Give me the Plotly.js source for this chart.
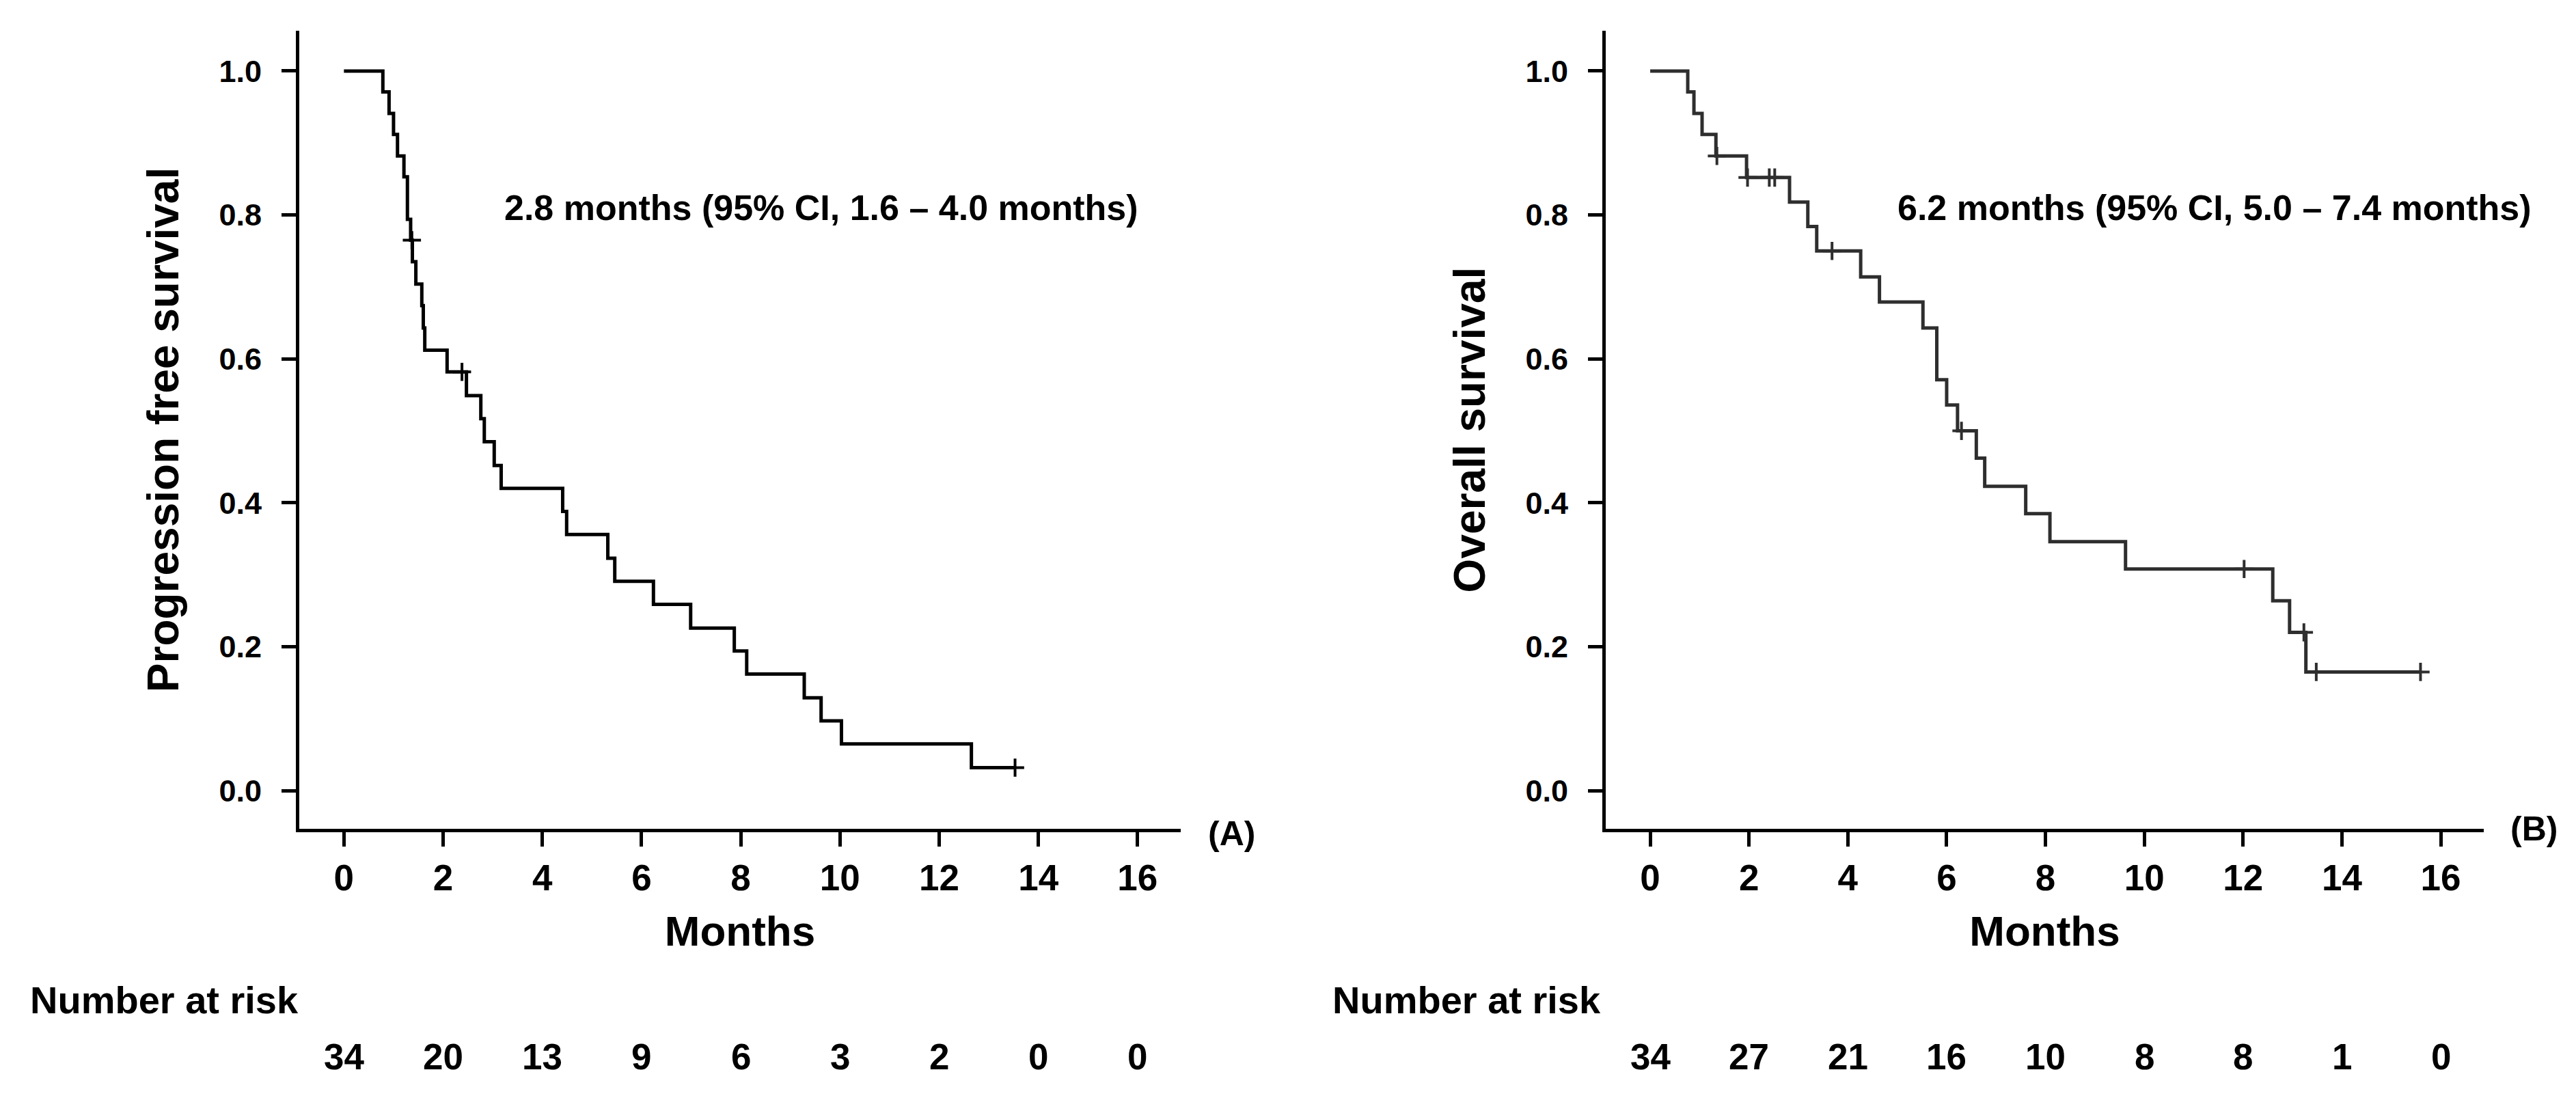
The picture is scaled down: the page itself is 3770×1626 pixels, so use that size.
<!DOCTYPE html>
<html>
<head>
<meta charset="utf-8">
<script src="https://cdn.plot.ly/plotly-3.0.1.min.js"></script>
<style>
html,body{margin:0;padding:0;background:#fff;}
#chart{width:3770px;height:1626px;}
</style>
</head>
<body>
<div id="chart"></div>
<script>
// ---- Panel A: progression free survival (Kaplan-Meier steps)
const pfsTime = [0, 0.785, 0.91, 1.0, 1.08, 1.21, 1.28, 1.345, 1.38, 1.45, 1.57, 1.60, 1.63, 2.08, 2.47, 2.76, 2.83, 3.03, 3.17, 4.41, 4.49, 5.32, 5.46, 6.24, 6.99, 7.87, 8.12, 9.28, 9.62, 10.03, 12.65, 13.53];
const pfsSurv = [1.0, 0.971, 0.941, 0.912, 0.882, 0.853, 0.794, 0.765, 0.735, 0.704, 0.674, 0.643, 0.612, 0.582, 0.549, 0.517, 0.485, 0.452, 0.420, 0.388, 0.356, 0.323, 0.291, 0.259, 0.226, 0.194, 0.162, 0.129, 0.097, 0.065, 0.032, 0.032];
const pfsCensorTime = [1.37, 2.38, 13.53];
const pfsCensorSurv = [0.765, 0.582, 0.032];
const pfsRisk = ['34', '20', '13', '9', '6', '3', '2', '0', '0'];
const pfsMedianText = '2.8 months (95% CI, 1.6 – 4.0 months)';

// ---- Panel B: overall survival
const osTime = [0, 0.76, 0.885, 1.05, 1.33, 1.95, 2.82, 3.19, 3.37, 4.26, 4.64, 5.52, 5.80, 6.00, 6.22, 6.60, 6.77, 7.60, 8.09, 9.62, 12.60, 12.94, 13.27, 15.59];
const osSurv = [1.0, 0.971, 0.941, 0.912, 0.882, 0.852, 0.818, 0.784, 0.750, 0.714, 0.679, 0.643, 0.571, 0.536, 0.500, 0.462, 0.423, 0.385, 0.346, 0.308, 0.264, 0.220, 0.165, 0.165];
const osCensorTime = [1.35, 1.97, 2.41, 2.52, 3.68, 6.30, 12.02, 13.23, 13.48, 15.59];
const osCensorSurv = [0.882, 0.852, 0.852, 0.852, 0.750, 0.500, 0.308, 0.220, 0.165, 0.165];
const osRisk = ['34', '27', '21', '16', '10', '8', '8', '1', '0'];
const osMedianText = '6.2 months (95% CI, 5.0 – 7.4 months)';

// ---- shared axis labels
const riskTimes = [0, 2, 4, 6, 8, 10, 12, 14, 16];
const xTickVals = [0, 2, 4, 6, 8, 10, 12, 14, 16];
const xTickText = ['0', '2', '4', '6', '8', '10', '12', '14', '16'];
const yTickVals = [0, 0.2, 0.4, 0.6, 0.8, 1.0];
const yTickText = ['0.0', '0.2', '0.4', '0.6', '0.8', '1.0'];
const xTitle = 'Months';
const yTitleA = 'Progression free survival';
const yTitleB = 'Overall survival';
const riskLabel = 'Number at risk';

const W = 3770, H = 1626;
const px = X => X / W;
const py = Y => 1 - Y / H;
const FONT = 'Arial, "Liberation Sans", Helvetica, sans-serif';

const traces = [
  {x: pfsTime, y: pfsSurv, xaxis: 'x', yaxis: 'y', mode: 'lines', line: {shape: 'hv', color: '#000000', width: 5}, hoverinfo: 'skip'},
  {x: pfsCensorTime, y: pfsCensorSurv, xaxis: 'x', yaxis: 'y', mode: 'markers',
   marker: {symbol: 'cross-thin', size: 19, color: '#000000', line: {color: '#000000', width: 4}}, hoverinfo: 'skip'},
  {x: osTime, y: osSurv, xaxis: 'x2', yaxis: 'y2', mode: 'lines', line: {shape: 'hv', color: '#2e2e2e', width: 5}, hoverinfo: 'skip'},
  {x: osCensorTime, y: osCensorSurv, xaxis: 'x2', yaxis: 'y2', mode: 'markers',
   marker: {symbol: 'cross-thin', size: 19, color: '#2e2e2e', line: {color: '#2e2e2e', width: 4}}, hoverinfo: 'skip'}
];

function xAxis(domain, anchor) {
  return {
    domain: domain, anchor: anchor, range: [-0.9, 16.87],
    showline: true, linecolor: '#000', linewidth: 5,
    ticks: 'outside', ticklen: 21, tickwidth: 5, tickcolor: '#000',
    tickvals: xTickVals, ticktext: xTickText,
    tickfont: {family: FONT, size: 53, color: '#000', weight: 'bold'},
    ticklabelstandoff: 0,
    showgrid: false, zeroline: false, fixedrange: true, automargin: false,
    title: {text: xTitle, font: {family: FONT, size: 62, color: '#000', weight: 'bold'}, standoff: 30}
  };
}
function yAxis(domain, anchor, title) {
  return {
    domain: domain, anchor: anchor, range: [-0.053, 1.056],
    showline: true, linecolor: '#000', linewidth: 5,
    ticks: 'outside', ticklen: 21, tickwidth: 5, tickcolor: '#000',
    tickvals: yTickVals, ticktext: yTickText,
    tickfont: {family: FONT, size: 45, color: '#000', weight: 'bold'},
    ticklabelstandoff: 20,
    showgrid: false, zeroline: false, fixedrange: true, automargin: false,
    title: {text: title, font: {family: FONT, size: 64, color: '#000', weight: 'bold'}, standoff: 40}
  };
}

const yDom = [py(1213), py(45)];
const annotations = [];
function addText(text, x, y, size, xanchor, xref) {
  annotations.push({text: text, x: x, y: y, xref: xref || 'paper', yref: 'paper',
    xanchor: xanchor || 'center', yanchor: 'middle', showarrow: false,
    font: {family: FONT, size: size, color: '#000', weight: 'bold'}});
}
addText(pfsMedianText, px(1202), py(304), 52);
addText(osMedianText, px(3241), py(304), 52);
addText('(A)', px(1802), py(1220), 50);
addText('(B)', px(3708), py(1213), 50);
addText(riskLabel, px(42), py(1463), 56, 'left');
addText(riskLabel, px(1948), py(1463), 56, 'left');
riskTimes.forEach((t, i) => {
  addText(pfsRisk[i], t, py(1546), 53, 'center', 'x');
  addText(osRisk[i], t, py(1546), 53, 'center', 'x2');
});

const layout = {
  width: W, height: H,
  margin: {l: 0, r: 0, t: 0, b: 0, pad: 0},
  paper_bgcolor: '#ffffff', plot_bgcolor: '#ffffff',
  showlegend: false,
  font: {family: FONT, color: '#000'},
  xaxis: xAxis([px(438), px(1728)], 'y'),
  yaxis: yAxis(yDom, 'x', yTitleA),
  xaxis2: xAxis([px(2350), px(3635)], 'y2'),
  yaxis2: yAxis(yDom, 'x2', yTitleB),
  annotations: annotations
};

Plotly.newPlot('chart', traces, layout, {staticPlot: true, displayModeBar: false});
</script>
</body>
</html>
